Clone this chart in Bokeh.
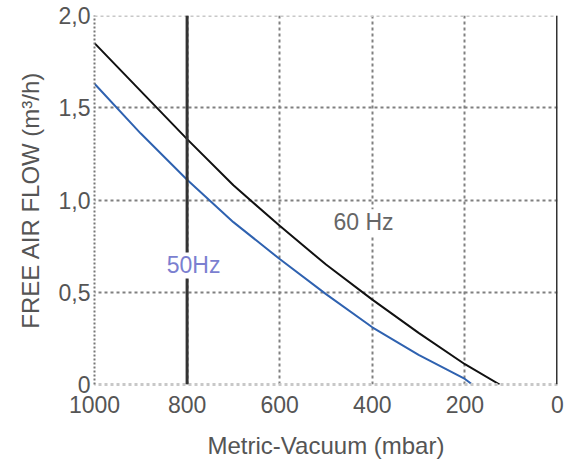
from bokeh.plotting import figure
from bokeh.models import Range1d, Span, FixedTicker, Label
from bokeh.embed import file_html
from bokeh.resources import INLINE

# data
vac_60 = [1000, 900, 800, 700, 600, 500, 400, 300, 200, 125]
flow_60 = [1.85, 1.59, 1.33, 1.08, 0.86, 0.65, 0.46, 0.28, 0.11, 0.0]
vac_50 = [1000, 900, 800, 700, 600, 500, 400, 300, 200, 184]
flow_50 = [1.63, 1.36, 1.11, 0.88, 0.68, 0.49, 0.31, 0.16, 0.03, 0.0]
x_ticks = [1000, 800, 600, 400, 200, 0]
y_ticks = [0, 0.5, 1.0, 1.5, 2.0]
y_labels = {0: "0", 0.5: "0,5", 1: "1,0", 1.5: "1,5", 2: "2,0"}

FONT = "Liberation Sans"
TXT = "#555555"

p = figure(width=567, height=462, output_backend="svg", toolbar_location=None,
           x_range=Range1d(1000, 0), y_range=Range1d(0, 2.0),
           frame_width=463, frame_height=369,
           min_border_left=94, min_border_right=10, min_border_top=15, min_border_bottom=20)
p.outline_line_color = None

p.xaxis.ticker = FixedTicker(ticks=x_ticks)
p.yaxis.ticker = FixedTicker(ticks=y_ticks)
p.yaxis.major_label_overrides = y_labels
for ax in (p.xaxis[0], p.yaxis[0]):
    ax.major_tick_out = 0
    ax.major_tick_in = 0
    ax.minor_tick_out = 0
    ax.minor_tick_in = 0
    ax.major_label_text_font = FONT
    ax.major_label_text_font_size = "23px"
    ax.major_label_text_color = TXT
    ax.axis_label_text_font = FONT
    ax.axis_label_text_font_size = "24px"
    ax.axis_label_text_font_style = "normal"
    ax.axis_label_text_color = TXT
p.xaxis.axis_line_color = "#c8c8c8"
p.xaxis.axis_line_width = 3
p.xaxis.axis_line_dash = "3 3"
p.yaxis.axis_line_color = "#777777"
p.yaxis.axis_line_width = 2
p.yaxis.axis_line_dash = "2 2"
p.xaxis.axis_label = "Metric-Vacuum (mbar)"
p.yaxis.axis_label = "FREE AIR FLOW (m³/h)"
p.xaxis.major_label_standoff = 11
p.yaxis.major_label_standoff = 4
p.xaxis.axis_label_standoff = 16
p.yaxis.axis_label_standoff = 12

for g in (p.xgrid[0], p.ygrid[0]):
    g.grid_line_color = "#808080"
    g.grid_line_width = 2
    g.grid_line_dash = "3 3"
    g.grid_line_alpha = 1.0

p.add_layout(Span(location=2.0, dimension="width", line_color="#c8c8c8", line_width=3, line_dash="3 3"))
p.add_layout(Span(location=800, dimension="height", line_color="#333333", line_width=3))
p.add_layout(Span(location=0, dimension="height", line_color="#333333", line_width=3))

p.line(vac_60, flow_60, line_color="#111111", line_width=2)
p.line(vac_50, flow_50, line_color="#2f62b0", line_width=2)

p.add_layout(Label(x=419, y=0.88, text="60 Hz", text_align="center", text_baseline="middle",
                   text_font=FONT, text_font_size="23px", text_color="#666666",
                   background_fill_color="white"))
p.add_layout(Label(x=786, y=0.645, text="50Hz", text_align="center", text_baseline="middle",
                   text_font=FONT, text_font_size="23px", text_color="#7b7fd0",
                   background_fill_color="white"))

open("out.html", "w").write(file_html(p, INLINE))
